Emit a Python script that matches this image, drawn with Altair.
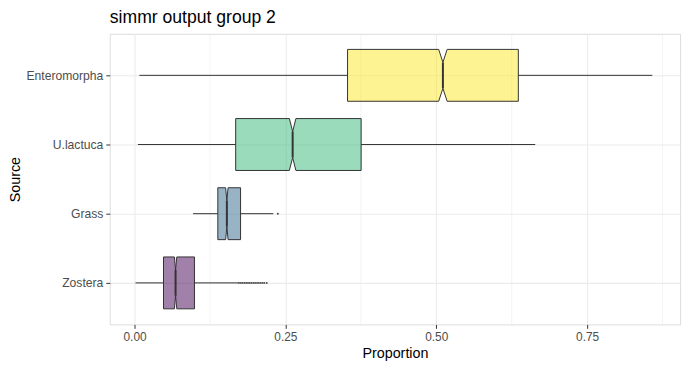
import altair as alt
import pandas as pd

# ---- data ----
sources   = ["Zostera", "Grass", "U.lactuca", "Enteromorpha"]
positions = [1, 2, 3, 4]
wlo    = [0.0016, 0.097, 0.0055, 0.008]
q1     = [0.048, 0.138, 0.1676, 0.353]
median = [0.068, 0.153, 0.262, 0.511]
notch  = [0.002, 0.002, 0.0054, 0.007]
q3     = [0.0993, 0.1757, 0.3755, 0.636]
whi    = [0.172, 0.230, 0.664, 0.858]
fills  = ["#440154", "#31688E", "#35B779", "#FDE725"]

outlier_src = ["Zostera"] * 16 + ["Grass"]
outlier_val = [0.173, 0.176, 0.179, 0.182, 0.185, 0.188, 0.191, 0.194,
               0.197, 0.200, 0.203, 0.206, 0.209, 0.212, 0.215, 0.219,
               0.2375]

major_x = [0.0, 0.25, 0.5, 0.75]
minor_x = [0.125, 0.375, 0.625, 0.875]

BOX_HALF = 0.375      # half box width in category units
INDENT = 0.1875       # notch indentation

# notched polygon vertices as area (x independent, y/y2 band)
rows = []
for s, p, a, m, n, b in zip(sources, positions, q1, median, notch, q3):
    lo, hi = p - BOX_HALF, p + BOX_HALF
    verts = [(a, lo, hi), (m - n, lo, hi), (m, lo + INDENT, hi - INDENT),
             (m + n, lo, hi), (b, lo, hi)]
    for x, y1, y2 in verts:
        rows.append({"source": s, "x": x, "ylo": y1, "yhi": y2})
poly = pd.DataFrame(rows)

stats = pd.DataFrame({"source": sources, "pos": positions, "wlo": wlo, "q1": q1,
                      "median": median, "q3": q3, "whi": whi,
                      "mlo": [p - BOX_HALF + INDENT for p in positions],
                      "mhi": [p + BOX_HALF - INDENT for p in positions]})
outl = pd.DataFrame({"source": outlier_src, "val": outlier_val})
outl["pos"] = outl["source"].map(dict(zip(sources, positions)))
minor_df = pd.DataFrame({"v": minor_x})

xscale = alt.Scale(domain=[-0.041, 0.904], nice=False, zero=False)
yscale = alt.Scale(domain=[0.4, 4.6], nice=False, zero=False)
label_expr = ("datum.value == 1 ? 'Zostera' : datum.value == 2 ? 'Grass' : "
              "datum.value == 3 ? 'U.lactuca' : 'Enteromorpha'")

xaxis = alt.Axis(values=major_x, format=".2f", title="Proportion",
                 grid=True, gridColor="#EBEBEB", gridWidth=1.1,
                 domain=False, tickColor="#333333", tickSize=4,
                 labelColor="#4D4D4D", labelFontSize=12, labelPadding=3,
                 titleFontSize=14.5, titleFontWeight="normal", titleColor="black",
                 titlePadding=4, labelFont="Liberation Sans", titleFont="Liberation Sans")
yaxis = alt.Axis(values=positions, labelExpr=label_expr, title="Source",
                 grid=True, gridColor="#EBEBEB", gridWidth=1.1,
                 domain=False, tickColor="#333333", tickSize=4,
                 labelColor="#4D4D4D", labelFontSize=12.3, labelPadding=3,
                 titleFontSize=14.5, titleFontWeight="normal", titleColor="black",
                 titlePadding=3, labelFont="Liberation Sans", titleFont="Liberation Sans")

minor = alt.Chart(minor_df).mark_rule(color="#EBEBEB", strokeWidth=0.6).encode(
    x=alt.X("v:Q", scale=xscale, axis=xaxis))

base = alt.Chart(stats)
whisk_lo = base.mark_rule(color="#333333", strokeWidth=1).encode(
    x=alt.X("wlo:Q", scale=xscale, axis=xaxis), x2="q1:Q",
    y=alt.Y("pos:Q", scale=yscale, axis=yaxis))
whisk_hi = base.mark_rule(color="#333333", strokeWidth=1).encode(
    x=alt.X("q3:Q", scale=xscale), x2="whi:Q", y=alt.Y("pos:Q", scale=yscale))

boxes = alt.Chart(poly).mark_area(fillOpacity=0.5, stroke="#333333", strokeWidth=1,
                                  strokeOpacity=1, orient="vertical").encode(
    x=alt.X("x:Q", scale=xscale),
    y=alt.Y("ylo:Q", scale=yscale, stack=None),
    y2="yhi:Q",
    fill=alt.Fill("source:N", scale=alt.Scale(domain=sources, range=fills), legend=None))

med = base.mark_rule(color="#333333", strokeWidth=2).encode(
    x=alt.X("median:Q", scale=xscale), y=alt.Y("mlo:Q", scale=yscale), y2="mhi:Q")

outs = alt.Chart(outl).mark_circle(color="#333333", size=4, opacity=0.9).encode(
    x=alt.X("val:Q", scale=xscale), y=alt.Y("pos:Q", scale=yscale))

chart = alt.layer(minor, whisk_lo, whisk_hi, boxes, med, outs).properties(
    width=577, height=294,
    title=alt.TitleParams("simmr output group 2", anchor="start", frame="group",
                          fontSize=17.8, fontWeight="normal", font="Liberation Sans",
                          color="black", offset=7),
    autosize=alt.AutoSizeParams(type="none"),
    padding={"left": 103, "top": 24, "right": 6, "bottom": 43},
).configure_view(stroke="#333333", strokeWidth=1.1).configure(background="white")

chart.save("out.html", embed_options={"renderer": "svg", "actions": False})
